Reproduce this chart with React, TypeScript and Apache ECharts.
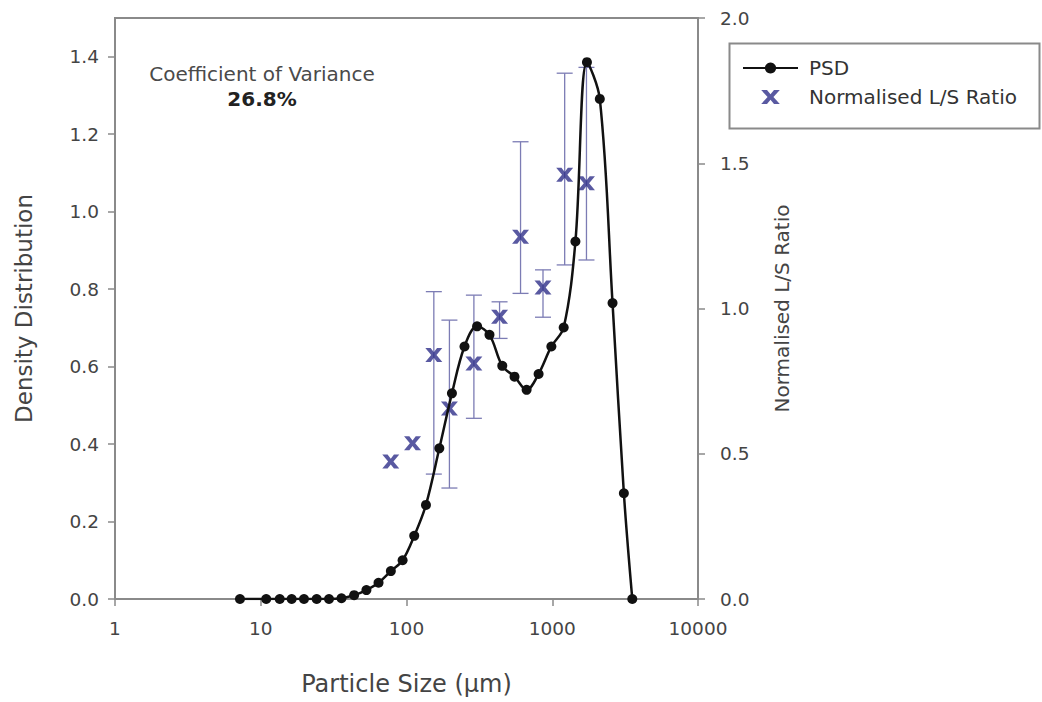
import React, { useEffect, useRef } from "react";
import * as echarts from "echarts";

// PSD: particle size (µm) vs density distribution
const psdSize = [7.2, 10.9, 13.5, 16.3, 19.8, 24.2, 29.4, 35.8, 43.7, 53.1, 64.3, 78.1, 94.0, 113, 136, 168, 205, 250, 305, 371, 454, 551, 667, 806, 986, 1198, 1442, 1730, 2120, 2592, 3100, 3541];
const psdDensity = [0, 0, 0, 0, 0, 0, 0, 0.002, 0.01, 0.023, 0.042, 0.072, 0.10, 0.163, 0.243, 0.389, 0.531, 0.652, 0.704, 0.682, 0.602, 0.574, 0.540, 0.581, 0.652, 0.701, 0.923, 1.386, 1.291, 0.764, 0.273, 0];

// Normalised L/S ratio with error bars
const lsSize = [78, 110, 154, 197, 290, 435, 606, 864, 1217, 1717];
const lsRatio = [0.473, 0.536, 0.840, 0.656, 0.811, 0.972, 1.247, 1.072, 1.460, 1.431];
const lsLow = [null, null, 0.43, 0.382, 0.622, 0.897, 1.052, 0.970, 1.150, 1.167];
const lsHigh = [null, null, 1.058, 0.960, 1.046, 1.023, 1.574, 1.133, 1.81, 1.83];

const leftTicks = [0, 0.2, 0.4, 0.6, 0.8, 1.0, 1.2, 1.4];
const xTicks = [1, 10, 100, 1000, 10000];

const FONT = "DejaVu Sans";
const AXIS_COLOR = "#8a8a8a";
const LABEL_COLOR = "#444";
const X_COLOR = "#30308a";
const XPATH = "path://M0,0 L5,0 L8,3.6 L11,0 L16,0 L10.5,6 L16,12 L11,12 L8,8.4 L5,12 L0,12 L5.5,6 Z";

export default function App() {
  const ref = useRef<HTMLDivElement>(null);
  useEffect(() => {
    if (!ref.current) return;
    const chart = echarts.init(ref.current, null, { renderer: "svg" });
    const psdData = psdSize.map((s, i) => [s, psdDensity[i]]);
    const lsData = lsSize.map((s, i) => [s, lsRatio[i]]);
    const barData = lsSize
      .map((s, i) => [s, lsLow[i], lsHigh[i]])
      .filter((d) => d[1] != null && d[2] != null);

    const axisLine = { show: true, lineStyle: { color: AXIS_COLOR, width: 2 } };
    const axisTick = { show: true, inside: false, length: 7, lineStyle: { color: AXIS_COLOR, width: 1.5 } };

    chart.setOption({
      animation: false,
      backgroundColor: "#fff",
      grid: { left: 115, right: 344, top: 18, bottom: 103, show: true, borderColor: AXIS_COLOR, borderWidth: 2, backgroundColor: "transparent" },
      xAxis: {
        type: "log",
        logBase: 10,
        min: 1,
        max: 10000,
        name: "Particle Size (µm)",
        nameLocation: "middle",
        nameGap: 73,
        nameTextStyle: { fontFamily: FONT, fontSize: 24, color: LABEL_COLOR },
        axisLine,
        axisTick: { ...axisTick, customValues: xTicks },
        splitLine: { show: false },
        minorTick: { show: false },
        axisLabel: {
          customValues: xTicks,
          margin: 20,
          fontFamily: FONT,
          fontSize: 18.5,
          color: LABEL_COLOR,
          formatter: (v: number) => String(Math.round(v)),
        },
      },
      yAxis: [
        {
          type: "value",
          min: 0,
          max: 1.5,
          position: "left",
          name: "Density Distribution",
          nameLocation: "middle",
          nameRotate: 90,
          nameGap: 80,
          nameTextStyle: { fontFamily: FONT, fontSize: 23, color: LABEL_COLOR },
          axisLine,
          axisTick: { ...axisTick, customValues: leftTicks },
          splitLine: { show: false },
          axisLabel: {
            customValues: leftTicks,
            margin: 16,
            fontFamily: FONT,
            fontSize: 18.5,
            color: LABEL_COLOR,
            formatter: (v: number) => v.toFixed(1),
          },
        },
        {
          type: "value",
          min: 0,
          max: 2,
          interval: 0.5,
          position: "right",
          name: "Normalised L/S Ratio",
          nameLocation: "middle",
          nameRotate: 90,
          nameGap: 74,
          nameTextStyle: { fontFamily: FONT, fontSize: 20, color: LABEL_COLOR },
          axisLine,
          axisTick,
          splitLine: { show: false },
          axisLabel: {
            margin: 22,
            fontFamily: FONT,
            fontSize: 18.5,
            color: LABEL_COLOR,
            formatter: (v: number) => v.toFixed(1),
          },
        },
      ],
      legend: {
        left: 742,
        top: 57,
        orient: "vertical",
        itemWidth: 55,
        itemHeight: 14,
        itemGap: 7,
        padding: 0,
        data: ["PSD", "Normalised L/S Ratio"],
        textStyle: { fontFamily: FONT, fontSize: 20, color: "#333", lineHeight: 22, padding: [0, 0, 0, 6] },
      },
      graphic: [
        {
          type: "rect",
          left: 727,
          top: 41,
          shape: { width: 310, height: 85 },
          style: { fill: "none", stroke: AXIS_COLOR, lineWidth: 2 },
          silent: true,
        },
        {
          type: "text",
          x: 262,
          y: 74,
          style: { text: "Coefficient of Variance", font: `20px "${FONT}"`, fill: "#4a4a4a", textAlign: "center", textVerticalAlign: "middle" },
        },
        {
          type: "text",
          x: 262,
          y: 99,
          style: { text: "26.8%", font: `bold 20px "${FONT}"`, fill: "#222", textAlign: "center", textVerticalAlign: "middle" },
        },
      ],
      series: [
        {
          name: "error",
          type: "custom",
          xAxisIndex: 0,
          yAxisIndex: 1,
          encode: { x: 0, y: [1, 2] },
          data: barData,
          z: 1,
          renderItem: (params: any, api: any) => {
            const x = api.value(0);
            const lo = api.coord([x, api.value(1)]);
            const hi = api.coord([x, api.value(2)]);
            const w = 8;
            const style = { stroke: "#7c7cb4", lineWidth: 1.3 };
            return {
              type: "group",
              children: [
                { type: "line", shape: { x1: lo[0], y1: lo[1], x2: hi[0], y2: hi[1] }, style },
                { type: "line", shape: { x1: lo[0] - w, y1: lo[1], x2: lo[0] + w, y2: lo[1] }, style },
                { type: "line", shape: { x1: hi[0] - w, y1: hi[1], x2: hi[0] + w, y2: hi[1] }, style },
              ],
            };
          },
        },
        {
          name: "Normalised L/S Ratio",
          type: "scatter",
          xAxisIndex: 0,
          yAxisIndex: 1,
          data: lsData,
          symbol: XPATH,
          symbolSize: [17, 14],
          itemStyle: { color: X_COLOR },
          z: 3,
        },
        {
          name: "PSD",
          type: "line",
          xAxisIndex: 0,
          yAxisIndex: 0,
          data: psdData,
          smooth: 0.35,
          symbol: "circle",
          symbolSize: 10,
          showAllSymbol: true,
          lineStyle: { color: "#111", width: 2.5 },
          itemStyle: { color: "#111" },
          z: 4,
        },
      ],
    });
    return () => chart.dispose();
  }, []);
  return <div ref={ref} style={{ width: 1042, height: 702, position: "absolute", left: 0, top: 0 }} />;
}
